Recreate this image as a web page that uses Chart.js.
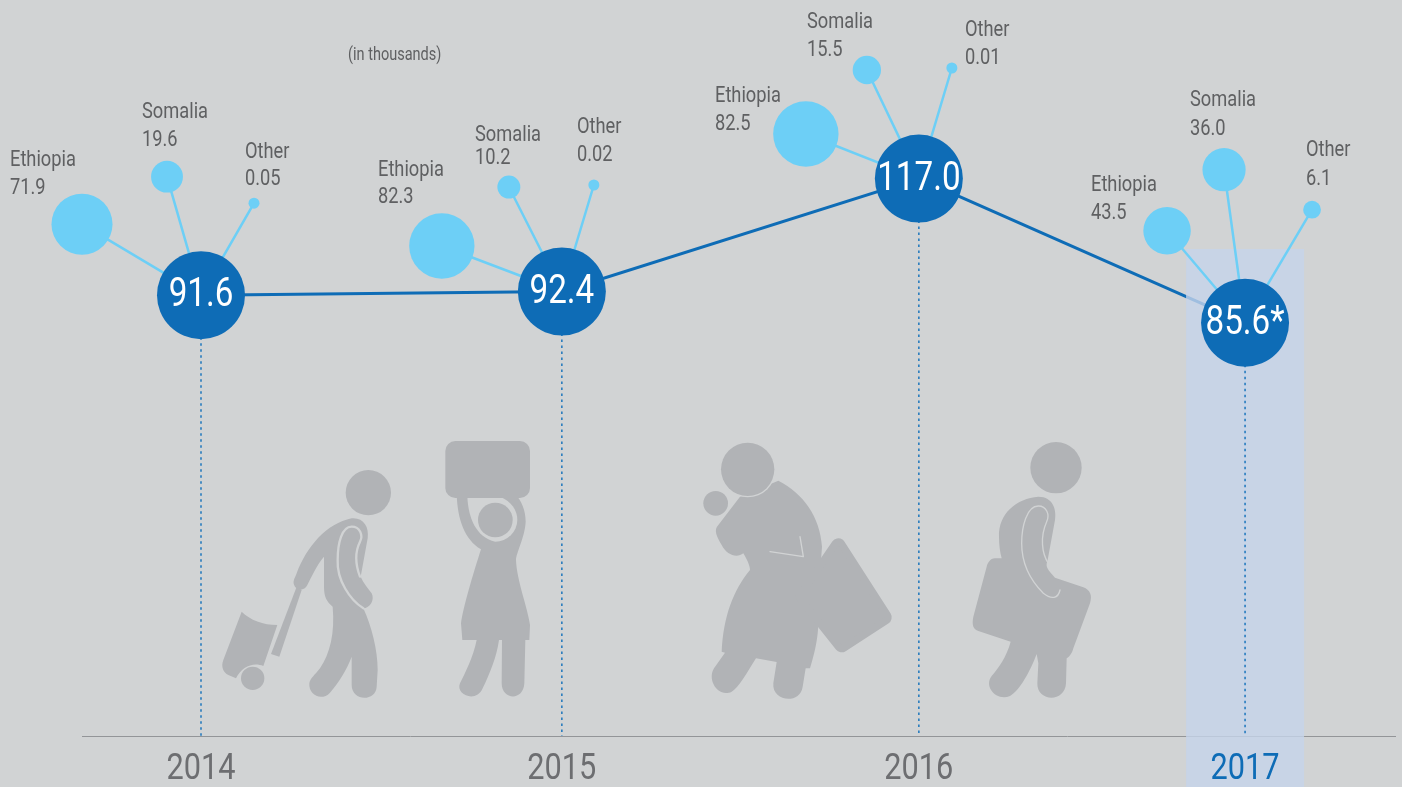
<!DOCTYPE html>
<html>
<head>
<meta charset="utf-8">
<title>Arrivals in thousands, 2014-2017</title>
<script src="https://cdn.jsdelivr.net/npm/chart.js@4/dist/chart.umd.min.js"></script>
<style>
    html, body { margin: 0; padding: 0; background: #d1d3d4; overflow: hidden; }
    canvas { display: block; }
</style>
</head>
<body>
<canvas id="arrivalsChart" width="1402" height="787"></canvas>
<script>
// --- Data (thousands) ---
const years = [2014, 2015, 2016, 2017];
const totals = [91.6, 92.4, 117.0, 85.6];
const totalNotes = ['', '', '', '*'];
const ethiopia = [71.9, 82.3, 82.5, 43.5];
const somalia = [19.6, 10.2, 15.5, 36.0];
const other = [0.05, 0.02, 0.01, 6.1];
const unitNote = '(in thousands)';

// --- Layout: the original is hand placed, so these only nudge things around ---
const slotShift = [0, 0.031, 0.051, -0.017];     // years are not quite evenly spaced
const PX_PER_YEAR = 350;
const PX_PER_UNIT = 4.59;
// satellite bubble offsets from the yearly circle, in px [ethiopia, somalia, other]
const satelliteOffsets = [
    [[-119, -71], [-34, -118.5], [53, -92]],
    [[-120, -45.5], [-53, -104.5], [32, -106.5]],
    [[-113, -44.6], [-52, -108.6], [33, -110.6]],
    [[-78, -92], [-21, -153], [67, -113]]
];
// label left edge and centre line of the first row, in px [ethiopia, somalia, other]
const labelSpots = [
    [[10, 160], [142, 112], [245, 152]],
    [[378, 170], [475, 135], [577, 127]],
    [[715, 96], [807, 22], [965, 30]],
    [[1091, 185], [1190, 100], [1306, 150]]
];
const labelRowGap = [[28, 28, 27], [27, 23, 28], [28, 28, 28], [28, 29, 29]];

const FONT = 'Roboto, sans-serif';
const TEXT_SQUEEZE = 0.83;   // no condensed face is installed
const BG = '#d1d3d4';
const BLUE = '#0e6cb6';
const SKY = '#6dcff6';
const TEXT_GREY = '#5f6062';
const ICON_GREY = '#b1b3b6';

const slotX = years.map(function(y, i) { return y + slotShift[i]; });
const groups = [ethiopia, somalia, other];
const countryNames = ['Ethiopia', 'Somalia', 'Other'];

function bubbleRadius(value) {
    return Math.max(5.5, 3.6 * Math.sqrt(value));
}

function satellitePoint(yearIdx, groupIdx) {
    const off = satelliteOffsets[yearIdx][groupIdx];
    return {
        x: slotX[yearIdx] + off[0] / PX_PER_YEAR,
        y: totals[yearIdx] - off[1] / PX_PER_UNIT,
        r: bubbleRadius(groups[groupIdx][yearIdx])
    };
}

// gaps in a line dataset come from the null y values
const dropData = [];
const spokeData = [];
const satelliteData = [];
years.forEach(function(y, i) {
    dropData.push({ x: slotX[i], y: totals[i] }, { x: slotX[i], y: -4.44 }, { x: slotX[i], y: null });
    groups.forEach(function(g, k) {
        const p = satellitePoint(i, k);
        satelliteData.push(p);
        spokeData.push({ x: slotX[i], y: totals[i] }, { x: p.x, y: p.y }, { x: slotX[i], y: null });
    });
});

// --- Pictograms, path coordinates are at 3x from the crop origin ---
function drawIcon(ctx, ox, oy, draw) {
    ctx.save();
    ctx.translate(ox, oy);
    ctx.scale(1 / 3, 1 / 3);
    ctx.fillStyle = ICON_GREY;
    ctx.strokeStyle = BG;
    ctx.lineCap = 'round';
    draw(ctx);
    ctx.restore();
}

function disc(ctx, x, y, r, color) {
    ctx.fillStyle = color || ICON_GREY;
    ctx.beginPath();
    ctx.arc(x, y, r, 0, Math.PI * 2);
    ctx.fill();
    ctx.fillStyle = ICON_GREY;
}

function drawIcons(ctx) {
    // man pulling a trolley
    drawIcon(ctx, 200, 430, function(c) {
        disc(c, 505, 188, 68);
        c.fill(new Path2D('M455 265C490 262 508 290 503 325L482 440C490 460 505 475 515 490C525 510 510 535 490 535C515 590 533 660 533 720L530 770C528 815 455 815 455 765L455 680C440 720 415 760 390 788C365 815 325 795 328 760C330 745 345 735 360 715C390 670 405 610 398 530C380 515 372 500 372 470L372 380C350 405 335 440 322 465C315 480 295 485 285 470C275 455 285 445 290 430C320 350 380 280 455 265Z'));
        c.lineWidth = 7;
        c.stroke(new Path2D('M490 535C450 510 410 450 413 390C413 340 425 290 455 290C480 290 490 315 480 335C465 365 465 400 480 440'));
        c.fill(new Path2D('M290 470L305 480L238 680L213 672Z'));
        c.fill(new Path2D('M125 545C150 570 190 585 232 585L190 708C160 695 125 710 108 745L85 735C70 728 62 710 70 690Z'));
        disc(c, 158, 745, 35);
    });

    // woman with a box on her head
    drawIcon(ctx, 200, 430, function(c) {
        c.fill(new Path2D('M770 190C772 270 795 330 843 358C820 430 790 530 783 580L787 630L830 630C820 680 795 730 780 760C765 795 830 820 848 775C870 730 890 680 897 630L906 630L905 760C905 810 970 815 973 760L976 630L988 630L990 585C985 540 950 450 948 390C948 370 975 320 977 275C977 240 965 215 945 190Z'));
        c.fillStyle = BG;
        c.fill(new Path2D('M802 200C805 260 825 320 886 335A66 66 0 0 0 952 270C952 240 935 215 900 200Z'));
        c.fillStyle = ICON_GREY;
        c.beginPath();
        c.roundRect(736, 33, 254, 171, 30);
        c.fill();
        disc(c, 886, 270, 52);
    });

    // woman carrying a baby and a bag
    drawIcon(ctx, 690, 430, function(c) {
        c.fill(new Path2D('M265 152C340 190 390 260 396 350L385 500C390 600 380 650 360 715L347 715L338 770C330 825 245 815 250 760L260 696L198 685C170 730 145 775 125 785C85 805 50 750 72 715L105 668L95 665C100 560 130 480 180 420C180 410 175 395 160 370C140 385 110 375 95 345C80 320 70 300 85 285L150 200Z'));
        c.lineJoin = 'round';
        c.lineWidth = 44;
        c.strokeStyle = ICON_GREY;
        const bag = new Path2D('M445 347L583 562L455 645L340 500Z');
        c.stroke(bag);
        c.fill(bag);
        disc(c, 77, 220, 37);
        disc(c, 173, 118, 84, BG);
        disc(c, 173, 118, 80);
        c.strokeStyle = BG;
        c.lineWidth = 4;
        c.stroke(new Path2D('M240 365L340 380L330 320'));
    });

    // man with a bag under his arm
    drawIcon(ctx, 690, 430, function(c) {
        disc(c, 1098, 113, 77);
        c.fill(new Path2D('M1045 200C1090 200 1100 240 1095 270L1072 395C1065 410 1075 420 1095 443L1180 472C1200 480 1208 495 1200 520L1150 655C1148 665 1140 680 1130 685L1128 760C1125 820 1040 815 1042 760L1045 700L1040 672C1020 725 990 780 960 798C920 815 880 770 905 738C925 715 950 680 962 635L865 603C850 598 845 585 850 560L890 410C893 400 900 385 915 385L935 385C930 365 927 345 927 320C925 250 980 205 1045 200Z'));
        c.lineWidth = 4;
        c.stroke(new Path2D('M1110 480C1105 505 1085 510 1060 490C1020 450 995 400 995 340C995 290 1010 228 1045 228C1070 228 1080 255 1070 275C1050 320 1055 370 1075 400'));
    });
}

// --- Plugin: everything the datasets do not cover ---
const TREND_DATASET = 0;
const extrasPlugin = {
    id: 'extras',
    beforeDatasetsDraw: function(chart) {
        drawIcons(chart.ctx);
    },
    // the 2017 band sits over the trend line, but under the drop lines, spokes and circles
    afterDatasetDraw: function(chart, args) {
        if (args.index !== TREND_DATASET) { return; }
        const ctx = chart.ctx;
        const cx = chart.scales.x.getPixelForValue(slotX[3]);
        ctx.save();
        ctx.fillStyle = 'rgba(198, 212, 235, 0.79)';
        ctx.fillRect(cx - 59, 249, 118, chart.height - 249);
        ctx.restore();
    },
    afterDatasetsDraw: function(chart) {
        const ctx = chart.ctx;
        const sx = chart.scales.x;
        const sy = chart.scales.y;
        ctx.save();
        ctx.textBaseline = 'middle';

        // yearly totals inside the circles
        ctx.textAlign = 'center';
        ctx.fillStyle = '#ffffff';
        ctx.font = '40px ' + FONT;
        years.forEach(function(y, i) {
            const text = totals[i].toFixed(1) + totalNotes[i];
            ctx.fillText(text, sx.getPixelForValue(slotX[i]), sy.getPixelForValue(totals[i]) + 1);
        });

        // country labels
        ctx.textAlign = 'left';
        ctx.fillStyle = TEXT_GREY;
        ctx.font = '22px ' + FONT;
        years.forEach(function(y, i) {
            groups.forEach(function(g, k) {
                const spot = labelSpots[i][k];
                const v = g[i];
                ctx.fillText(countryNames[k], spot[0], spot[1]);
                ctx.fillText(v >= 1 ? v.toFixed(1) : String(v), spot[0], spot[1] + labelRowGap[i][k]);
            });
        });

        ctx.font = '17.5px ' + FONT;
        ctx.fillText(unitNote, 348, 56);
        ctx.restore();
    }
};

// squeeze every label horizontally, tick labels included
const chartCtx = document.getElementById('arrivalsChart').getContext('2d');
const plainFillText = chartCtx.fillText.bind(chartCtx);
chartCtx.fillText = function(text, x, y) {
    chartCtx.save();
    chartCtx.translate(x, y);
    chartCtx.scale(TEXT_SQUEEZE, 1);
    plainFillText(text, 0, 0);
    chartCtx.restore();
};

new Chart(chartCtx, {
    plugins: [extrasPlugin],
    data: {
        datasets: [
            {
                type: 'line', label: 'Total', order: 5, clip: false,
                data: years.map(function(y, i) { return { x: slotX[i], y: totals[i] }; }),
                borderColor: BLUE, borderWidth: 3, pointRadius: 0, tension: 0
            },
            {
                type: 'line', label: 'Drop lines', data: dropData, order: 4, clip: false,
                borderColor: '#1c75bc', borderWidth: 1.5, borderDash: [2.5, 3.5],
                pointRadius: 0, spanGaps: false
            },
            {
                type: 'line', label: 'Spokes', data: spokeData, order: 3, clip: false,
                borderColor: SKY, borderWidth: 2.5, pointRadius: 0, spanGaps: false
            },
            {
                type: 'bubble', label: 'Countries', data: satelliteData, order: 2, clip: false,
                backgroundColor: SKY, borderWidth: 0
            },
            {
                type: 'bubble', label: 'Yearly circles', order: 1, clip: false,
                data: years.map(function(y, i) { return { x: slotX[i], y: totals[i], r: 44 }; }),
                backgroundColor: BLUE, borderWidth: 0
            }
        ]
    },
    options: {
        responsive: false,
        animation: false,
        events: [],
        layout: { autoPadding: false, padding: { left: 82, right: 7, top: 0, bottom: 0 } },
        plugins: { legend: { display: false }, tooltip: { enabled: false } },
        scales: {
            x: {
                type: 'linear',
                min: 2013.66,
                max: 2017.4114,
                grid: { display: false, drawTicks: false },
                border: { display: true, color: '#939598', width: 1 },
                afterBuildTicks: function(scale) {
                    scale.ticks = slotX.map(function(v) { return { value: v }; });
                },
                afterFit: function(scale) { scale.height = 51; },
                ticks: {
                    z: 1,
                    autoSkip: false,
                    maxRotation: 0,
                    padding: 12,
                    font: { family: FONT, size: 37 },
                    color: function(c) { return c.index === 3 ? BLUE : '#6d6e71'; },
                    callback: function(v, index) { return String(years[index]); }
                }
            },
            y: { display: false, min: -4.44, max: 155.91 }
        }
    }
});
</script>
</body>
</html>
